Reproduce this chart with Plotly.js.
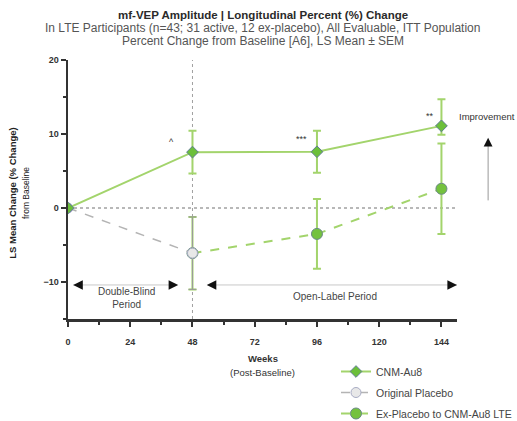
<!DOCTYPE html>
<html>
<head>
<meta charset="utf-8">
<script src="https://cdn.plot.ly/plotly-3.0.1.min.js"></script>
<style>
  html, body { margin: 0; padding: 0; background: #fff; }
  #chart { width: 517px; height: 421px; }
</style>
</head>
<body>
<div id="chart"></div>
<script>
// Week ticks
const weekTicks = [0, 24, 48, 72, 96, 120, 144];

// CNM-Au8 arm (LS mean % change, SEM)
const cnmWeeks = [0, 48, 96, 144];
const cnmMean = [0, 7.55, 7.6, 11.1];
const cnmSemUp = [0, 2.9, 2.85, 3.6];
const cnmSemDown = [0, 2.9, 2.85, 1.2];

// Original placebo arm (double-blind period)
const pboWeeks = [0, 48];
const pboMean = [0, -6.1];
const pboSem = [0, 4.9];

// Ex-placebo participants switched to CNM-Au8 in the LTE
const exWeeks = [48, 96, 144];
const exMean = [-6.1, -3.5, 2.6];
const exSem = [4.9, 4.7, 6.1];

// Significance markers
const sigWeeks = [40, 90, 139.5];
const sigY = [8.9, 9.3, 12.4];
const sigText = ['^', '***', '**'];

const titleLines = [
  'mf-VEP Amplitude | Longitudinal Percent (%) Change',
  'In LTE Participants (n=43; 31 active, 12 ex-placebo), All Evaluable, ITT Population',
  'Percent Change from Baseline [A6], LS Mean \u00b1 SEM'
];

const green = '#a3d46c';
const font = 'Liberation Sans, Arial, sans-serif';

const traces = [
  {
    x: exWeeks, y: exMean, name: 'Ex-Placebo to CNM-Au8 LTE', legendgroup: 'ex', legendrank: 3,
    mode: 'lines+markers', type: 'scatter',
    line: {color: green, width: 2, dash: 'dash'},
    marker: {symbol: 'circle', size: 11, color: '#74c23e', line: {color: '#6b8a86', width: 1}},
    error_y: {type: 'data', array: exSem, visible: true, color: green, thickness: 2, width: 4}
  },
  {
    x: pboWeeks, y: pboMean, name: 'Original Placebo', legendgroup: 'pbo', legendrank: 2,
    mode: 'lines+markers', type: 'scatter',
    line: {color: '#b4b4b4', width: 1.5, dash: 'dash'},
    marker: {symbol: 'circle', size: 10, color: '#e8e8e8', line: {color: '#a8acc4', width: 1}},
    error_y: {type: 'data', array: pboSem, visible: true, color: '#9a9a9a', thickness: 1, width: 4}
  },
  {
    x: cnmWeeks, y: cnmMean, name: 'CNM-Au8', legendgroup: 'cnm', legendrank: 1,
    mode: 'lines+markers', type: 'scatter',
    line: {color: green, width: 2},
    marker: {symbol: 'diamond', size: 9, color: '#6cbf3a', line: {color: '#5f7d92', width: 1}},
    error_y: {type: 'data', symmetric: false, array: cnmSemUp, arrayminus: cnmSemDown,
              visible: true, color: green, thickness: 2, width: 4}
  }
];

const annotations = [];

// Three-line heading
const titleY = [1.172, 1.122, 1.072];
const titleSize = [11.5, 12, 12];
for (let i = 0; i < titleLines.length; i++) {
  annotations.push({x: 0.5, y: titleY[i], xref: 'paper', yref: 'paper',
    xanchor: 'center', yanchor: 'middle', showarrow: false,
    text: i === 0 ? '<b>' + titleLines[i] + '</b>' : titleLines[i],
    font: {family: font, size: titleSize[i], color: i === 0 ? '#2a2a2a' : '#555'}});
}

for (let i = 0; i < sigWeeks.length; i++) {
  annotations.push({x: sigWeeks[i], y: sigY[i], xref: 'x', yref: 'y', text: sigText[i],
    showarrow: false, font: {family: font, size: 9, color: '#333'}});
}

// Study-period arrowheads (black) on grey guide lines
function head(x0, x1, y) {
  return {x: x1, y: y, ax: x0, ay: y, xref: 'x', yref: 'y', axref: 'x', ayref: 'y',
          text: '', showarrow: true, arrowhead: 2, arrowsize: 1.6, arrowwidth: 1.2,
          arrowcolor: '#111'};
}
annotations.push(head(4, 2, -10.4), head(40, 42.5, -10.4));
annotations.push(head(56, 53.5, -10.4), head(146, 150, -10.4));
annotations.push({x: 22.5, y: -12.2, xref: 'x', yref: 'y', text: 'Double-Blind<br>Period',
  showarrow: false, font: {family: font, size: 10, color: '#444'}});
annotations.push({x: 103, y: -12.0, xref: 'x', yref: 'y', text: 'Open-Label Period',
  showarrow: false, font: {family: font, size: 10, color: '#444'}});

// Improvement direction (right of the plot area): grey shaft, black head
annotations.push({x: 0.999, y: 0.78, xref: 'paper', yref: 'paper', text: 'Improvement',
  xanchor: 'left', yanchor: 'middle',
  showarrow: false, font: {family: font, size: 9.5, color: '#333'}});
annotations.push({x: 1.08, y: 0.68, xref: 'paper', yref: 'paper', ax: 0, ay: 59,
  text: '', showarrow: true, arrowhead: 0, arrowwidth: 1, arrowcolor: '#999'});
annotations.push({x: 1.08, y: 0.70, xref: 'paper', yref: 'paper', ax: 0, ay: 8,
  text: '', showarrow: true, arrowhead: 2, arrowsize: 1.6, arrowwidth: 1.1, arrowcolor: '#111'});

// Axis titles
annotations.push({x: -0.127, y: 0.486, xref: 'paper', yref: 'paper', textangle: -90,
  xanchor: 'center', yanchor: 'middle',
  text: '<b>LS Mean Change (% Change)</b><br><span style="font-size:8.5px">from Baseline</span>',
  showarrow: false, font: {family: font, size: 9.5, color: '#222'}});
annotations.push({x: 0.5, y: -0.151, xref: 'paper', yref: 'paper', text: '<b>Weeks</b>',
  xanchor: 'center', yanchor: 'middle', showarrow: false,
  font: {family: font, size: 9.5, color: '#333'}});
annotations.push({x: 0.5, y: -0.205, xref: 'paper', yref: 'paper', text: '(Post-Baseline)',
  xanchor: 'center', yanchor: 'middle', showarrow: false,
  font: {family: font, size: 9.5, color: '#333'}});

const shapes = [
  {type: 'line', xref: 'x', yref: 'y', x0: 0, x1: 150, y0: 0, y1: 0,
   line: {color: '#b8b8b8', width: 2, dash: 'dot'}, layer: 'below'},
  {type: 'line', xref: 'x', yref: 'y', x0: 48, x1: 48, y0: -15, y1: 20,
   line: {color: '#a0a0a0', width: 1, dash: 'dot'}, layer: 'below'},
  {type: 'line', xref: 'x', yref: 'y', x0: 2, x1: 42, y0: -10.4, y1: -10.4,
   line: {color: '#c8c8c8', width: 1}, layer: 'below'},
  {type: 'line', xref: 'x', yref: 'y', x0: 54, x1: 150, y0: -10.4, y1: -10.4,
   line: {color: '#c8c8c8', width: 1}, layer: 'below'}
];

const layout = {
  width: 517, height: 421,
  margin: {l: 68, r: 60, t: 60, b: 102, autoexpand: false},
  paper_bgcolor: '#fff', plot_bgcolor: '#fff',
  font: {family: font, color: '#333'},
  showlegend: true,
  xaxis: {
    range: [0, 150], showgrid: false, zeroline: false, automargin: false,
    showline: true, linecolor: '#333', linewidth: 2.5,
    ticks: 'outside', ticklen: 5, tickwidth: 2, tickcolor: '#333',
    tickvals: weekTicks, ticktext: weekTicks.map(String),
    minor: {dtick: 12, tick0: 0, ticks: 'outside', ticklen: 3, tickwidth: 2, tickcolor: '#333'},
    ticklabelstandoff: 8,
    tickfont: {family: font, size: 9, color: '#333', weight: 'bold'}
  },
  yaxis: {
    range: [-15, 20], showgrid: false, zeroline: false, automargin: false,
    showline: true, linecolor: '#333', linewidth: 2.5,
    ticks: 'outside', ticklen: 5, tickwidth: 2, tickcolor: '#333',
    tickvals: [-10, 0, 10, 20],
    minor: {dtick: 5, tick0: 0, ticks: 'outside', ticklen: 3, tickwidth: 2, tickcolor: '#333'},
    tickfont: {family: font, size: 9, color: '#333', weight: 'bold'}
  },
  legend: {
    x: (336 - 68) / 389, y: (319 - 357) / 259, xanchor: 'left', yanchor: 'top',
    traceorder: 'grouped', bgcolor: 'rgba(0,0,0,0)',
    font: {family: font, size: 10.5, color: '#444'},
    itemwidth: 30, tracegroupgap: 2
  },
  annotations: annotations,
  shapes: shapes
};

Plotly.newPlot('chart', traces, layout, {displayModeBar: false, staticPlot: true});
</script>
</body>
</html>
